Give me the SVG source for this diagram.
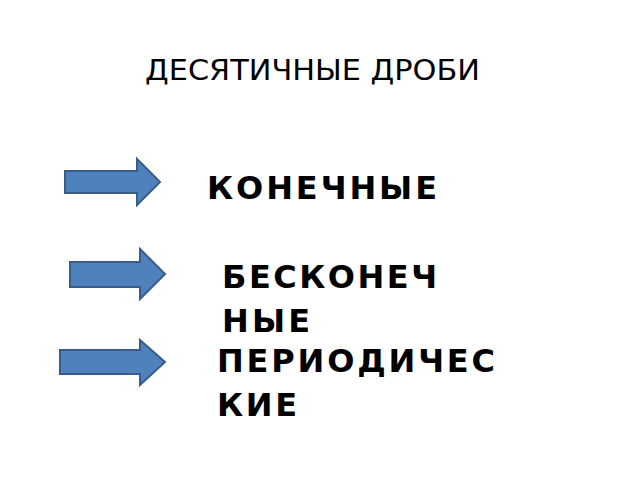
<svg xmlns="http://www.w3.org/2000/svg" width="640" height="480" viewBox="0 0 640 480">
<defs><style>
.a{fill:#4f81bd;stroke:#385d8a;stroke-width:2}
.t{font-family:"DejaVu Sans",sans-serif;font-weight:bold;font-size:32px;fill:#000}
</style></defs>
<rect width="640" height="480" fill="#fff"/>
<text x="145" y="80" font-family="DejaVu Sans,sans-serif" font-size="29" textLength="335" lengthAdjust="spacingAndGlyphs">ДЕСЯТИЧНЫЕ ДРОБИ</text>
<g id="connectors">
<path class="a" d="M65,171 H137 V159 L160,182 L137,205 V193 H65 Z"/>
<path class="a" d="M70,262 H140 V249 L165,274 L140,299 V287 H70 Z"/>
<path class="a" d="M60,350 H140 V340 L165,362 L140,385 V374 H60 Z"/>
</g>
<g id="n1"><text class="t" x="207" y="199" textLength="230">КОНЕЧНЫЕ</text></g>
<g id="n2"><text class="t" x="222" y="288" textLength="215">БЕСКОНЕЧ</text><text class="t" x="222" y="332" textLength="88">НЫЕ</text></g>
<g id="n3"><text class="t" x="217" y="372" textLength="278">ПЕРИОДИЧЕС</text><text class="t" x="217" y="416" textLength="80">КИЕ</text></g>
</svg>
